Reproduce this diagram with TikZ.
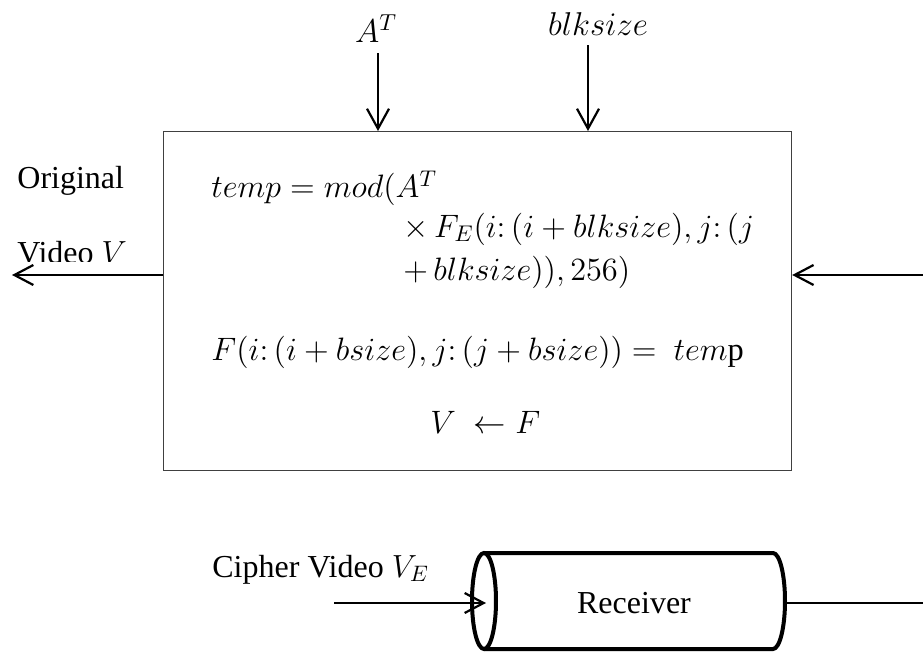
\RequirePackage{fix-cm}
\documentclass[tikz,border=0pt]{standalone}
\usepackage{fontspec}
\setmainfont{Liberation Serif}
\usetikzlibrary{arrows.meta}
\begin{document}
\begin{tikzpicture}[x=0.5pt,y=-0.5pt,
  font=\fontsize{16}{19}\selectfont,
  txt/.style={inner sep=0pt,anchor=base west},
  mth/.style={inner sep=0pt,anchor=base west,font=\fontsize{16.2}{20}\selectfont},
  flow/.style={line width=1.1pt,-{Straight Barb[length=9.5pt,width=10pt,line width=1.1pt]}},
  flowbig/.style={line width=1.1pt,-{Straight Barb[length=10pt,width=11pt,line width=1.1pt]}},
  plain/.style={line width=0.8pt},
  boxline/.style={draw=black!75,line width=0.6pt},
  tube/.style={line width=2pt}]
\useasboundingbox (0,0) rectangle (923,653);

% main processing block
\node[boxline,minimum width=314pt,minimum height=169.5pt,anchor=north west,inner sep=0pt] (blk) at (163,131) {};

% inputs from above
\node[inner sep=0pt,anchor=base,font=\fontsize{16.5}{20}\selectfont] (at) at (376,42) {$A^{T}$};
\node[inner sep=0pt,anchor=base,font=\fontsize{16.5}{20}\selectfont] (bs) at (598,35) {$blksize$};
\coordinate (atS) at (378,53);
\coordinate (bsS) at (588,45);
\draw[flowbig] (atS) -- (atS |- blk.north);
\draw[flowbig] (bsS) -- (bsS |- blk.north);

% formulas inside the block
\node[mth] (l1) at (211,198) {$temp = mod(A^{T}$};
\node[mth] (l2) at (403,237) {$\times\, F_{E}\bigl(i\colon(i+blksize), j\colon(j$};
\node[mth] (l3) at (403,280) {$+\, blksize)\bigr), 256)$};
\node[mth] (l4) at (211,360) {$F(i\colon(i+bsize), j\colon(j+bsize)) = \ tem\mathrm{p}$};
\node[mth] (l5) at (430,433) {$V\;\leftarrow F$};

% output on the left, input on the right
\node[txt] (orig) at (17,188) {Original};
\begin{scope}
  \clip (0,200) rectangle (160,261);
  \node[txt] (vid) at (17,263) {Video $V$};
\end{scope}
\coordinate (outL) at (12,275);
\coordinate (inR) at (923,275);
\draw[flow] (blk.west |- outL) -- (outL);
\draw[flow] (inR) -- (blk.east |- inR);

% receiver drum
\draw[tube] (484,601) ellipse [x radius=12, y radius=48];
\draw[tube] (484,553) -- (773,553) arc[start angle=-90,end angle=90,x radius=12,y radius=48] -- (484,649);
\node[inner sep=0pt,anchor=base] (rx) at (634,613) {Receiver};
\node[txt] (cv) at (212,577) {Cipher Video $V_{E}$};
\coordinate (cin) at (334,603);
\coordinate (rin) at (486,603);
\coordinate (rout) at (785,603);
\coordinate (edge) at (923,603);
\draw[flow] (cin) -- (rin);
\draw[plain] (rout) -- (edge);
\end{tikzpicture}
\end{document}
